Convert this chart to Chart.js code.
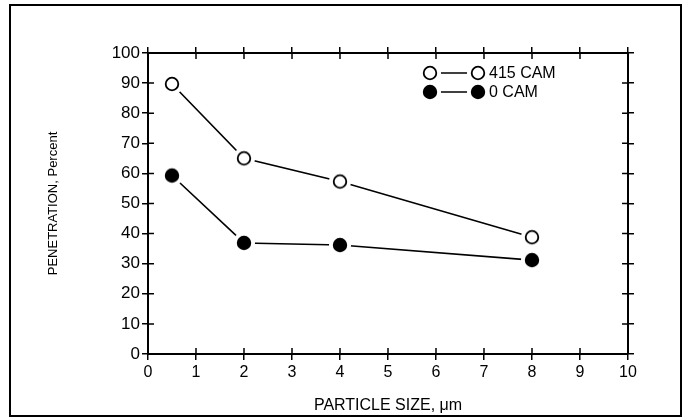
<!DOCTYPE html>
<html>
<head>
<meta charset="utf-8">
<script src="https://cdn.jsdelivr.net/npm/chart.js@4"></script>
<style>
  html, body { margin: 0; padding: 0; background: #fff; }
  #wrap { width: 688px; height: 419px; }
</style>
</head>
<body>
<div id="wrap"><canvas id="chart" width="688" height="419"></canvas></div>
<script>
// ------------------ DATA ------------------
const particleSize = [0.5, 2, 4, 8];
const cam415 = [89.7, 65.0, 57.3, 38.8];
const cam0 = [59.3, 36.9, 36.2, 31.2];
const seriesNames = ["415 CAM", "0 CAM"];
const xTicks = [0, 1, 2, 3, 4, 5, 6, 7, 8, 9, 10];
const yTicks = [0, 10, 20, 30, 40, 50, 60, 70, 80, 90, 100];

const FONT = "'Liberation Sans', Arial, sans-serif";

// marker images: a white halo so the line stops short of the symbol
function makeMarker(filled) {
  const c = document.createElement("canvas");
  c.width = 24; c.height = 24;
  const g = c.getContext("2d");
  g.fillStyle = "#fff";
  g.beginPath(); g.arc(12, 12, 11, 0, Math.PI * 2); g.fill();
  g.beginPath(); g.arc(12, 12, 6.3, 0, Math.PI * 2);
  if (filled) { g.fillStyle = "#000"; g.fill(); }
  g.lineWidth = 1.8; g.strokeStyle = "#000"; g.stroke();
  return c;
}
const openMark = makeMarker(false);
const fullMark = makeMarker(true);

// ------------------ PLUGINS ------------------
const frame = {
  id: "frame",
  beforeDraw(chart) {
    const c = chart.ctx;
    c.save();
    c.fillStyle = "#fff";
    c.fillRect(0, 0, chart.width, chart.height);
    c.strokeStyle = "#000";
    c.lineWidth = 2;
    c.strokeRect(10, 5, 671, 411);
    c.restore();
  }
};

// tick marks that cross the axis lines (inward half)
const innerTicks = {
  id: "innerTicks",
  afterDraw(chart) {
    const c = chart.ctx, a = chart.chartArea;
    const xs = chart.scales.x, ys = chart.scales.y;
    c.save();
    c.strokeStyle = "#000";
    c.lineWidth = 1.5;
    c.beginPath();
    xTicks.forEach(v => {
      const px = xs.getPixelForValue(v);
      c.moveTo(px, a.bottom); c.lineTo(px, a.bottom - 6);
      c.moveTo(px, a.top); c.lineTo(px, a.top + 6);
    });
    yTicks.forEach(v => {
      const py = ys.getPixelForValue(v);
      c.moveTo(a.left, py); c.lineTo(a.left + 6, py);
      c.moveTo(a.right, py); c.lineTo(a.right - 6, py);
    });
    c.stroke();
    c.restore();
  }
};

const legendBox = {
  id: "legendBox",
  afterDraw(chart) {
    const c = chart.ctx;
    const rows = [
      { y: 73, img: openMark, name: seriesNames[0] },
      { y: 92, img: fullMark, name: seriesNames[1] }
    ];
    c.save();
    c.font = "16px " + FONT;
    c.fillStyle = "#000";
    c.strokeStyle = "#000";
    c.lineWidth = 1.5;
    c.textBaseline = "middle";
    rows.forEach(r => {
      c.beginPath(); c.moveTo(440, r.y); c.lineTo(469, r.y); c.stroke();
      c.drawImage(r.img, 430 - 12, r.y - 12);
      c.drawImage(r.img, 478 - 12, r.y - 12);
      c.fillText(r.name, 489, r.y + 1);
    });
    c.restore();
  }
};

// ------------------ CHART ------------------
const ctx = document.getElementById("chart").getContext("2d");

const axisGrid = { drawOnChartArea: false, tickLength: 6, color: "#000", lineWidth: 1.5 };
const axisBorder = { color: "#000", width: 2 };

new Chart(ctx, {
  type: "scatter",
  data: {
    datasets: [
      {
        label: seriesNames[0],
        data: particleSize.map((x, i) => ({ x: x, y: cam415[i] })),
        showLine: true,
        borderColor: "#000",
        borderWidth: 1.6,
        pointStyle: openMark,
        pointRadius: 12
      },
      {
        label: seriesNames[1],
        data: particleSize.map((x, i) => ({ x: x, y: cam0[i] })),
        showLine: true,
        borderColor: "#000",
        borderWidth: 1.6,
        pointStyle: fullMark,
        pointRadius: 12
      }
    ]
  },
  options: {
    responsive: false,
    animation: false,
    layout: { padding: { left: 46, top: 47, right: 54, bottom: 0 } },
    plugins: { legend: { display: false }, tooltip: { enabled: false } },
    scales: {
      x: {
        type: "linear", position: "bottom", min: 0, max: 10,
        afterBuildTicks: s => { s.ticks = xTicks.map(v => ({ value: v })); },
        afterFit: s => { s.height = 65; },
        grid: axisGrid, border: axisBorder,
        ticks: { color: "#000", font: { family: FONT, size: 16 }, padding: 3 },
        title: {
          display: true, text: "PARTICLE SIZE, \u03bcm", color: "#000",
          font: { family: FONT, size: 16 }, padding: { top: 0, bottom: 4 }
        }
      },
      x2: {
        type: "linear", position: "top", min: 0, max: 10,
        afterBuildTicks: s => { s.ticks = xTicks.map(v => ({ value: v })); },
        afterFit: s => { s.height = 6; },
        grid: axisGrid, border: axisBorder,
        ticks: { display: false }
      },
      y: {
        type: "linear", position: "left", min: 0, max: 100,
        afterBuildTicks: s => { s.ticks = yTicks.map(v => ({ value: v })); },
        afterFit: s => { s.width = 102; },
        grid: axisGrid, border: axisBorder,
        ticks: { color: "#000", font: { family: FONT, size: 17 }, padding: 2 },
        title: {
          display: true, text: "PENETRATION, Percent", color: "#000",
          font: { family: FONT, size: 13 }, padding: { top: 0, bottom: 0 }
        }
      },
      y2: {
        type: "linear", position: "right", min: 0, max: 100,
        afterBuildTicks: s => { s.ticks = yTicks.map(v => ({ value: v })); },
        afterFit: s => { s.width = 6; },
        grid: axisGrid, border: axisBorder,
        ticks: { display: false }
      }
    }
  },
  plugins: [frame, innerTicks, legendBox]
});
</script>
</body>
</html>
